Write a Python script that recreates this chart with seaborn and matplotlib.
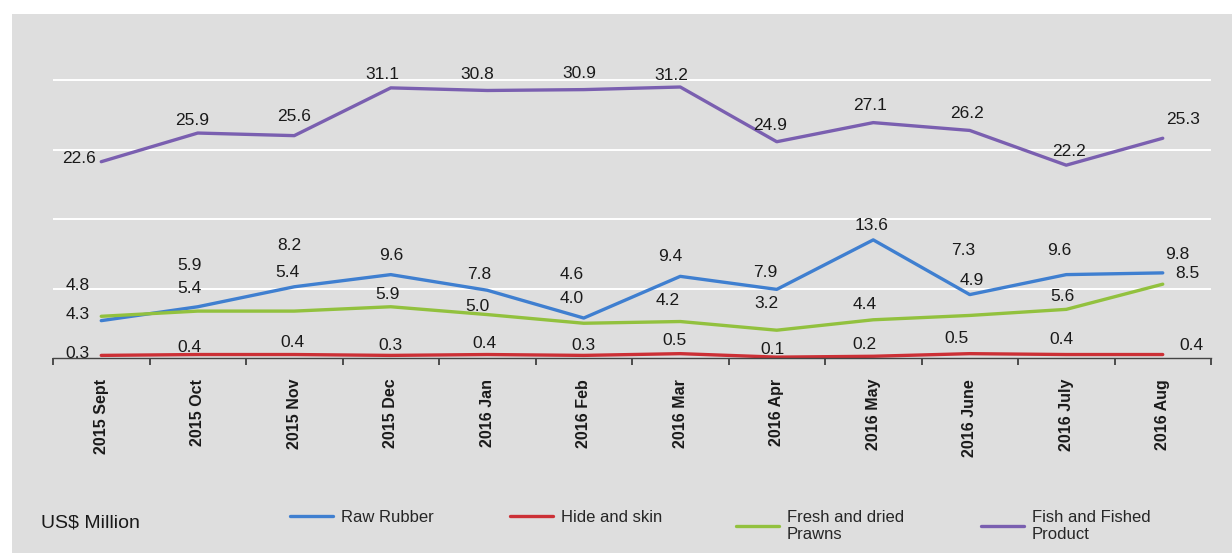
import pandas as pd
import numpy as np
import matplotlib.pyplot as plt
from matplotlib.patches import Rectangle
import seaborn as sns

months = ['2015 Sept', '2015 Oct', '2015 Nov', '2015 Dec', '2016 Jan', '2016 Feb',
          '2016 Mar', '2016 Apr', '2016 May', '2016 June', '2016 July', '2016 Aug']

raw_rubber = [4.3, 5.9, 8.2, 9.6, 7.8, 4.6, 9.4, 7.9, 13.6, 7.3, 9.6, 9.8]
hide_skin = [0.3, 0.4, 0.4, 0.3, 0.4, 0.3, 0.5, 0.1, 0.2, 0.5, 0.4, 0.4]
prawns = [4.8, 5.4, 5.4, 5.9, 5.0, 4.0, 4.2, 3.2, 4.4, 4.9, 5.6, 8.5]
fish = [22.6, 25.9, 25.6, 31.1, 30.8, 30.9, 31.2, 24.9, 27.1, 26.2, 22.2, 25.3]

series_names = ['Raw Rubber', 'Hide and skin', 'Fresh and dried\nPrawns', 'Fish and Fished\nProduct']
series_values = [raw_rubber, hide_skin, prawns, fish]
colors = ['#3f7fd0', '#cc3036', '#92c13e', '#7a5fb0']

# label offsets in pixels (dx, dy), to mimic the original placement
offsets = [
    [(-24, 6), (-8, 41), (-5, 41), (0, 19), (-8, 16), (-12, 44), (-10, 20), (-12, 17), (-2, 14), (-7, 44), (-7, 24), (14, 18)],
    [(-24, 2), (-8, 7), (-2, 12), (0, 10), (-3, 11), (0, 10), (-6, 13), (-4, 8), (-9, 12), (-13, 15), (-5, 15), (29, 9)],
    [(-24, 31), (-8, 23), (-7, 39), (-3, 12), (-10, 8), (-12, 25), (-13, 21), (-10, 27), (-9, 15), (2, 35), (-4, 13), (25, 11)],
    [(-22, 3), (-6, 13), (0, 19), (-8, 13), (-10, 16), (-4, 16), (-9, 12), (-7, 16), (-3, 17), (-3, 17), (3, 14), (20, 19)],
]

rows = []
for name, vals in zip(series_names, series_values):
    for m, v in zip(months, vals):
        rows.append({'month': m, 'value': v, 'series': name})
df = pd.DataFrame(rows)

sns.set_style('white', {'axes.facecolor': '#dedede'})
plt.rcParams['font.family'] = ['Liberation Sans', 'DejaVu Sans']

fig = plt.figure(figsize=(12.32, 5.53), dpi=100, facecolor='white')
fig.patches.append(Rectangle((12 / 1232, 0), 1, 1 - 14 / 553, transform=fig.transFigure,
                             facecolor='#dedede', edgecolor='none', zorder=-10))
ax = fig.add_axes([53 / 1232, 1 - 358 / 553, 1158 / 1232, 304 / 553])

sns.lineplot(data=df, x='month', y='value', hue='series', palette=colors,
             sort=False, linewidth=2.4, ax=ax, legend=False)

for i, vals in enumerate(series_values):
    for j, v in enumerate(vals):
        dx, dy = offsets[i][j]
        ax.annotate(f'{v:.1f}', (j, v), xytext=(dx, dy), textcoords='offset pixels',
                    ha='center', va='center', fontsize=12.5, color='#1a1a1a')

ax.set_xlim(-0.5, 11.5)
ax.set_ylim(0, 35)
ax.set_yticks([8, 16, 24, 32])
ax.set_yticklabels([])
ax.yaxis.grid(True, color='white', linewidth=1.4)
ax.tick_params(axis='y', length=0)
ax.set_xticks(range(len(months)))
ax.set_xticklabels(months, rotation=90, fontsize=11.5, fontweight='bold', color='#1a1a1a')
ax.set_xticks(np.arange(-0.5, 12, 1), minor=True)
ax.tick_params(axis='x', which='major', bottom=True, length=0, pad=15)
ax.tick_params(axis='x', which='minor', bottom=True, length=5, width=1.2,
               color='#333333', direction='out')
ax.set_xlabel('')
ax.set_ylabel('')
for s in ['top', 'right', 'left']:
    ax.spines[s].set_visible(False)
ax.spines['bottom'].set_color('#444444')
ax.spines['bottom'].set_linewidth(1)

fig.text(41 / 1232, 1 - 523 / 553, 'US$ Million', fontsize=14, va='center', ha='left', color='#1a1a1a')

lines = ax.get_lines()
legend_x = [290, 510, 736, 981]
for line, name, lx in zip(lines[:4], series_names, legend_x):
    fig.legend([line], [name], loc='upper left', bbox_to_anchor=(lx / 1232, 1 - 510 / 553),
               frameon=False, fontsize=12, handlelength=2.55, handletextpad=0.5,
               borderpad=0, borderaxespad=0, labelspacing=0.2)

plt.savefig('out.png', dpi=100, facecolor=fig.get_facecolor())
plt.close()
